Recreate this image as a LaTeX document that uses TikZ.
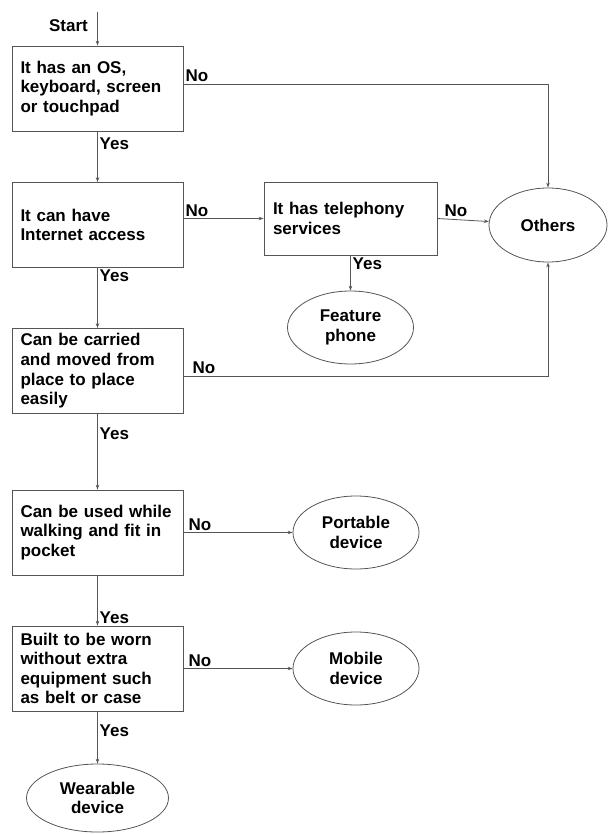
\documentclass[tikz,border=0pt]{standalone}
\usepackage{fontspec}
\setmainfont{Liberation Sans}
\usetikzlibrary{shapes.geometric,arrows.meta}
\definecolor{linegray}{RGB}{85,85,85}
\begin{document}
\begin{tikzpicture}[x=1pt, y=-1pt,
    every node/.style={font=\fontsize{17}{19.6}\selectfont\bfseries},
    question/.style={draw=linegray, line width=0.8pt, rectangle, text width=154pt,
        inner xsep=8.5pt, inner ysep=0pt, minimum height=85pt, align=left},
    answer/.style={draw=linegray, line width=0.8pt, ellipse, inner sep=0pt,
        minimum width=126pt, minimum height=73pt, align=center},
    arrow/.style={draw=linegray, line width=0.8pt, -{Stealth[length=5pt,width=3.5pt]}},
    tag/.style={inner sep=2pt}]
    \useasboundingbox (0,0) rectangle (608,834);

    % Question boxes along the left column
    \node[question] (os) at (97.5,88.5) {It has an OS,\\ keyboard, screen\\ or touchpad};
    \node[question] (internet) at (97.5,225) {It can have\\ Internet access};
    \node[question] (carry) at (97.5,371) {Can be carried\\ and moved from\\ place to place\\ easily};
    \node[question] (walk) at (97.5,532.5) {Can be used while\\ walking and fit in\\ pocket};
    \node[question] (worn) at (97.5,668.5) {Built to be worn\\ without extra\\ equipment such\\ as belt or case};
    \node[question, text width=155pt, inner xsep=9pt, minimum height=73pt] (phone) at (350.5,218.5) {It has telephony\\ services};

    % Outcomes (ellipses)
    \node[answer, minimum width=118pt, minimum height=74pt] (others) at (548,225) {Others};
    \node[answer] (feature) at (350.5,327.5) {Feature\\ phone};
    \node[answer] (portable) at (356,532.5) {Portable\\ device};
    \node[answer] (mobile) at (356,668.5) {Mobile\\ device};
    \node[answer, minimum width=142pt, minimum height=68pt] (wearable) at (97.5,798) {Wearable\\ device};

    % Start of the flow
    \coordinate (start) at (97.5,12);
    \node[tag, left] (startlabel) at (90,26) {Start};
    \draw[arrow] (start) -- (os);

    % Yes branches (downwards)
    \draw[arrow] (os) -- (internet);
    \draw[arrow] (internet) -- (carry);
    \draw[arrow] (carry) -- (walk);
    \draw[arrow] (walk) -- (worn);
    \draw[arrow] (worn) -- (wearable);
    \draw[arrow] (phone) -- (feature);

    % No branches (to the right)
    \draw[arrow] ([yshift=4.5pt]os.east) -| (others);
    \draw[arrow] (internet.east |- phone.west) -- (phone.west);
    \draw[arrow] (phone.east) -- (others);
    \draw[arrow] ([yshift=-5pt]carry.east) -| (others);
    \draw[arrow] (walk) -- (portable);
    \draw[arrow] (worn) -- (mobile);

    % Labels on the branches
    \node[tag, above right] (no1) at ([yshift=4.5pt]os.east) {No};
    \node[tag, above right] (no2) at (internet.east |- phone.west) {No};
    \node[tag, above right, xshift=5pt] (no3) at (phone.east) {No};
    \node[tag, above right, xshift=7pt] (no4) at ([yshift=-5pt]carry.east) {No};
    \node[tag, above right, xshift=3pt] (no5) at (walk.east) {No};
    \node[tag, above right, xshift=3pt] (no6) at (worn.east) {No};

    \node[tag, below right, yshift=-4pt] (yes1) at (os.south) {Yes};
    \node[tag, below right] (yes2) at (internet.south) {Yes};
    \node[tag, below right, yshift=-12pt] (yes3) at (carry.south) {Yes};
    \node[tag, above right] (yes4) at (worn.north) {Yes};
    \node[tag, below right, yshift=-11pt] (yes5) at (worn.south) {Yes};
    \node[tag, below right] (yes6) at (phone.south) {Yes};
\end{tikzpicture}
\end{document}
